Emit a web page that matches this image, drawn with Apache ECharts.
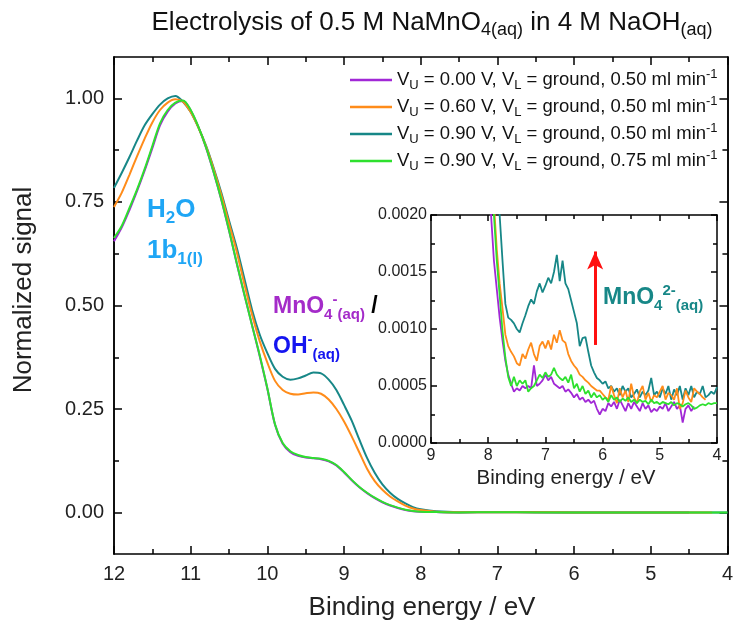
<!DOCTYPE html>
<html>
<head>
<meta charset="utf-8">
<script src="https://cdn.jsdelivr.net/npm/echarts@6/dist/echarts.min.js"></script>
<style>html,body{margin:0;padding:0;background:#fff;}#c{width:736px;height:625px;}</style>
</head>
<body>
<div id="c"></div>
<script>
// ---------- DATA ----------
const seriesNames = ['U000_050', 'U060_050', 'U090_050', 'U090_075'];

const mainE = [12.0,11.9,11.8,11.7,11.6,11.5,11.4,11.3,11.2,11.1,
               11.0,10.9,10.8,10.7,10.6,10.5,10.4,10.3,10.2,10.1,
               10.0,9.9,9.8,9.7,9.6,9.5,9.4,9.3,9.2,9.1,
               9.0,8.9,8.8,8.7,8.6,8.5,8.4,8.3,8.2,8.1,
               8.0,7.8,7.5,7.0,6.5,6.0,5.5,5.0,4.5,4.2,4.0];

const mainPurple = [0.655,0.688,0.730,0.776,0.826,0.880,0.935,0.968,0.988,0.994,
                    0.971,0.931,0.881,0.821,0.755,0.681,0.602,0.526,0.453,0.378,
                    0.299,0.212,0.166,0.146,0.137,0.133,0.131,0.129,0.124,0.114,
                    0.097,0.078,0.061,0.047,0.035,0.025,0.017,0.011,0.006,0.003,
                    0.002,0.0012,0.0005,0.0006,0.0004,0.0003,0.0003,0.0003,0.0003,null,null];

const mainOrange = [0.738,0.772,0.815,0.860,0.903,0.942,0.972,0.990,0.998,0.992,
                    0.967,0.930,0.884,0.829,0.767,0.698,0.630,0.552,0.478,0.414,
                    0.362,0.318,0.296,0.287,0.285,0.288,0.290,0.287,0.273,0.250,
                    0.220,0.184,0.145,0.106,0.076,0.055,0.039,0.027,0.017,0.010,
                    0.006,0.002,0.0007,0.0009,0.0007,0.00045,0.0005,0.00045,0.0004,0.0004,null];

const mainTeal = [0.784,0.820,0.858,0.898,0.935,0.962,0.985,1.000,1.006,0.992,
                  0.967,0.930,0.886,0.832,0.772,0.705,0.640,0.565,0.490,0.430,
                  0.385,0.347,0.328,0.321,0.324,0.331,0.338,0.336,0.321,0.296,
                  0.260,0.222,0.176,0.132,0.096,0.068,0.048,0.033,0.022,0.013,
                  0.008,0.003,0.001,0.0014,0.0012,0.0005,0.0005,0.0004,0.0005,0.0004,0.0005];

const mainGreen = [0.663,0.692,0.735,0.780,0.830,0.885,0.940,0.972,0.990,0.995,
                   0.972,0.932,0.882,0.822,0.756,0.682,0.603,0.527,0.452,0.380,
                   0.300,0.213,0.168,0.148,0.139,0.134,0.132,0.130,0.125,0.115,
                   0.098,0.079,0.062,0.048,0.036,0.026,0.018,0.012,0.007,0.004,
                   0.002,0.0013,0.0005,0.0006,0.0005,0.0004,0.0004,0.00035,0.00035,0.00033,0.00035];

const insetE = [8.00,7.95,7.90,7.85,7.80,7.75,7.70,7.65,7.60,7.55,
                7.50,7.45,7.40,7.35,7.30,7.25,7.20,7.15,7.10,7.05,
                7.00,6.95,6.90,6.85,6.80,6.75,6.70,6.65,6.60,6.55,
                6.50,6.45,6.40,6.35,6.30,6.25,6.20,6.15,6.10,6.05,
                6.00,5.95,5.90,5.85,5.80,5.75,5.70,5.65,5.60,5.55,
                5.50,5.45,5.40,5.35,5.30,5.25,5.20,5.15,5.10,5.05,
                5.00,4.95,4.90,4.85,4.80,4.75,4.70,4.65,4.60,4.55,
                4.50,4.45,4.40,4.35,4.30,4.25,4.20,4.15,4.10,4.05,
                4.00];

const insetPurple = [0.0026,0.0020,0.0016,0.00135,0.00110,0.00090,0.00072,0.00060,0.00052,0.00045,
                     0.00048,0.00046,0.00050,0.00048,0.00050,0.00048,0.00068,0.00050,0.00052,0.00055,
                     0.00060,0.00055,0.00058,0.00052,0.00050,0.00048,0.00050,0.00045,0.00047,0.00044,
                     0.00040,0.00043,0.00038,0.00040,0.00036,0.00038,0.00035,0.00037,0.00030,0.00025,
                     0.00030,0.00028,0.00035,0.00032,0.00036,0.00030,0.00038,0.00033,0.00028,0.00035,
                     0.00030,0.00036,0.00032,0.00028,0.00035,0.00030,0.00033,0.00027,0.00030,0.00028,
                     0.00032,0.00030,0.00035,0.00028,0.00032,0.00036,0.00030,0.00033,0.00018,0.00030,
                     0.00033,0.00028,0.00032,null,null,null,null,null,null,null,
                     null];

const insetOrange = [0.0036,0.0028,0.0021,0.0017,0.00140,0.00118,0.00095,0.00085,0.00080,0.00076,
                     0.00070,0.00068,0.00078,0.00074,0.00082,0.00088,0.00078,0.00072,0.00085,0.00089,
                     0.00083,0.00090,0.00082,0.00095,0.00088,0.00099,0.00090,0.00088,0.00078,0.00072,
                     0.00068,0.00065,0.00060,0.00058,0.00055,0.00053,0.00050,0.00048,0.00046,0.00046,
                     0.00043,0.00040,0.00038,0.00050,0.00042,0.00035,0.00048,0.00040,0.00046,0.00036,
                     0.00052,0.00040,0.00035,0.00045,0.00050,0.00038,0.00044,0.00036,0.00042,0.00040,
                     0.00045,0.00050,0.00038,0.00044,0.00042,0.00038,0.00048,0.00030,0.00035,0.00046,
                     0.00040,0.00036,0.00048,0.00045,0.00043,0.00040,0.00038,null,null,null,
                     null];

const insetTeal = [0.0040,0.0033,0.0028,0.0024,0.0020,0.0016,0.00122,0.00110,0.00108,0.00105,
                   0.00100,0.00097,0.00105,0.00112,0.00120,0.00126,0.00122,0.00133,0.00140,0.00132,
                   0.00138,0.00145,0.00140,0.00150,0.00165,0.00142,0.00160,0.00140,0.00135,0.00125,
                   0.00115,0.00105,0.00085,0.00092,0.00093,0.00080,0.00068,0.00062,0.00057,0.00055,
                   0.00052,0.00054,0.00048,0.00050,0.00045,0.00048,0.00042,0.00050,0.00045,0.00048,
                   0.00040,0.00043,0.00047,0.00040,0.00045,0.00042,0.00046,0.00057,0.00042,0.00045,
                   0.00040,0.00048,0.00043,0.00050,0.00038,0.00047,0.00042,0.00050,0.00038,0.00048,
                   0.00042,0.00050,0.00040,0.00045,0.00043,0.00050,0.00040,0.00042,0.00045,0.00043,
                   0.00049];

const insetGreen = [0.0032,0.0026,0.0020,0.0016,0.00130,0.00098,0.00075,0.00058,0.00050,0.00058,
                    0.00050,0.00055,0.00052,0.00055,0.00045,0.00048,0.00050,0.00055,0.00060,0.00057,
                    0.00062,0.00058,0.00060,0.00066,0.00060,0.00057,0.00055,0.00058,0.00053,0.00060,
                    0.00048,0.00052,0.00045,0.00050,0.00043,0.00046,0.00040,0.00044,0.00040,0.00042,
                    0.00038,0.00040,0.00036,0.00042,0.00038,0.00040,0.00036,0.00039,0.00037,0.00040,
                    0.00036,0.00038,0.00035,0.00038,0.00036,0.00037,0.00034,0.00038,0.00035,0.00036,
                    0.00034,0.00036,0.00035,0.00034,0.00036,0.00033,0.00035,0.00034,0.00032,0.00034,
                    0.00035,0.00033,0.00030,0.00031,0.00033,0.00034,0.00033,0.00035,0.00034,0.00035,
                    0.00035];

const mainYMajor = [0, 0.25, 0.5, 0.75, 1.0];
const mainYMinor = [0.125, 0.375, 0.625, 0.875];

// ---------- STYLE ----------
const FONT = '"Liberation Sans", Arial, sans-serif';
const colors = {
  U000_050: '#a128d6',
  U060_050: '#ff8c1a',
  U090_050: '#178787',
  U090_075: '#2ee02e'
};
const legendLabels = {
  U000_050: 'V{sb|U} = 0.00 V, V{sb|L} = ground, 0.50 ml min{sp|-1}',
  U060_050: 'V{sb|U} = 0.60 V, V{sb|L} = ground, 0.50 ml min{sp|-1}',
  U090_050: 'V{sb|U} = 0.90 V, V{sb|L} = ground, 0.50 ml min{sp|-1}',
  U090_075: 'V{sb|U} = 0.90 V, V{sb|L} = ground, 0.75 ml min{sp|-1}'
};
const mainData = { U000_050: mainPurple, U060_050: mainOrange, U090_050: mainTeal, U090_075: mainGreen };
const insetData = { U000_050: insetPurple, U060_050: insetOrange, U090_050: insetTeal, U090_075: insetGreen };
const drawOrder = ['U000_050', 'U090_050', 'U060_050', 'U090_075'];

const AX = '#000';
function xAx(grid, pos, min, max, labels, fs, tl, ml, margin) {
  return {
    type: 'value', gridIndex: grid, position: pos, inverse: true, min: min, max: max, interval: 1,
    axisLine: { show: true, onZero: false, lineStyle: { color: AX, width: 1.5 } },
    axisTick: { show: true, inside: true, length: tl, lineStyle: { color: AX, width: 1.5 } },
    minorTick: { show: true, splitNumber: 2, length: ml, lineStyle: { color: AX, width: 1.5 } },
    axisLabel: { show: labels, fontSize: fs, color: '#222', fontFamily: FONT, margin: margin },
    splitLine: { show: false }
  };
}
function yCustom(pos, vals, len, labels) {
  return {
    type: 'value', gridIndex: 0, position: pos, min: -0.1, max: 1.1,
    axisLine: { show: true, onZero: false, lineStyle: { color: AX, width: 1.5 } },
    axisTick: { show: true, inside: true, length: len, customValues: vals, lineStyle: { color: AX, width: 1.5 } },
    axisLabel: labels ? { show: true, customValues: vals, fontSize: 20, color: '#222', fontFamily: FONT, margin: 10,
      formatter: v => Number(v).toFixed(2) } : { show: false },
    splitLine: { show: false }
  };
}
function yInset(pos, labels) {
  return {
    type: 'value', gridIndex: 1, position: pos, min: 0, max: 0.002, interval: 0.0005,
    axisLine: { show: true, onZero: false, lineStyle: { color: AX, width: 1.5 } },
    axisTick: { show: true, inside: true, length: 6, lineStyle: { color: AX, width: 1.5 } },
    minorTick: { show: true, splitNumber: 2, length: 4, lineStyle: { color: AX, width: 1.5 } },
    axisLabel: { show: labels, fontSize: 16, color: '#222', fontFamily: FONT, margin: 4,
      formatter: v => Number(v).toFixed(4) },
    splitLine: { show: false }
  };
}

const series = [];
drawOrder.forEach(n => {
  series.push({
    name: n, type: 'line', xAxisIndex: 0, yAxisIndex: 0, symbol: 'none', smooth: 0.3,
    clip: true, animation: false, color: colors[n],
    lineStyle: { color: colors[n], width: 2 },
    data: mainE.map((e, i) => [e, mainData[n][i]])
  });
});
drawOrder.forEach(n => {
  const s = {
    name: n, type: 'line', xAxisIndex: 2, yAxisIndex: 4, symbol: 'none', smooth: false,
    clip: true, animation: false, color: colors[n],
    lineStyle: { color: colors[n], width: 1.8 },
    data: insetE.map((e, i) => [e, insetData[n][i]])
  };
  if (n === 'U090_075') {
    s.markLine = {
      silent: true, animation: false, symbol: ['none', 'arrow'], symbolSize: [12, 18],
      lineStyle: { color: '#ff1010', width: 3, type: 'solid' },
      label: { show: false },
      data: [[{ coord: [6.13, 0.00086] }, { coord: [6.13, 0.00168] }]]
    };
  }
  series.push(s);
});

const subS = (fs, extra) => Object.assign({ fontSize: fs, verticalAlign: 'bottom', lineHeight: Math.round(fs * 0.9) }, extra || {});
const supS = (fs, extra) => Object.assign({ fontSize: fs, verticalAlign: 'top', lineHeight: Math.round(fs * 0.9) }, extra || {});

function richText(x, y, text, fs, sfs, color, bold, extraRich) {
  const w = bold ? 'bold' : 'normal';
  const rich = {
    sb: subS(sfs, { fontWeight: w, fontFamily: FONT, fill: color, color: color }),
    sp: supS(sfs, { fontWeight: w, fontFamily: FONT, fill: color, color: color })
  };
  Object.assign(rich, extraRich || {});
  return { type: 'text', x: x, y: y, style: {
    text: text, fontSize: fs, fontWeight: w, fontFamily: FONT, fill: color,
    verticalAlign: 'middle', lineHeight: Math.round(fs * 1.3), rich: rich } };
}

const option = {
  backgroundColor: '#fff',
  animation: false,
  grid: [
    { left: 114, top: 57, right: 5, bottom: 71 },
    { left: 431, top: 215, right: 19, bottom: 182 }
  ],
  xAxis: [
    xAx(0, 'bottom', 4, 12, true, 20, 8, 5, 10),
    xAx(0, 'top', 4, 12, false, 20, 8, 5, 10),
    xAx(1, 'bottom', 4, 9, true, 16, 6, 4, 5),
    xAx(1, 'top', 4, 9, false, 16, 6, 4, 5)
  ],
  yAxis: [
    yCustom('left', mainYMajor, 8, true),
    yCustom('left', mainYMinor, 5, false),
    yCustom('right', mainYMajor, 8, false),
    yCustom('right', mainYMinor, 5, false),
    yInset('left', true),
    yInset('right', false)
  ],
  legend: {
    data: seriesNames, orient: 'vertical', left: 345, top: 63,
    icon: 'rect', itemWidth: 42, itemHeight: 2.5, itemGap: 3,
    formatter: n => legendLabels[n],
    textStyle: {
      fontSize: 18.5, color: '#111', fontFamily: FONT, lineHeight: 24,
      rich: { sb: subS(13, { fontFamily: FONT, color: '#111' }), sp: supS(13, { fontFamily: FONT, color: '#111' }) }
    }
  },
  series: series,
  graphic: [
    { type: 'text', x: 432, y: 23, style: {
      text: 'Electrolysis of 0.5 M NaMnO{sb|4(aq)} in 4 M NaOH{sb|(aq)}',
      fontSize: 26, fontFamily: FONT, fill: '#111', align: 'center', verticalAlign: 'middle', lineHeight: 32,
      rich: { sb: subS(18, { fontFamily: FONT, fill: '#111', color: '#111' }) } } },
    { type: 'text', x: 422, y: 608, style: {
      text: 'Binding energy / eV', fontSize: 26, fontFamily: FONT, fill: '#222', align: 'center', verticalAlign: 'middle' } },
    { type: 'text', x: 24, y: 290, rotation: Math.PI / 2, style: {
      text: 'Normalized signal', fontSize: 26, fontFamily: FONT, fill: '#222', align: 'center', verticalAlign: 'middle' } },
    { type: 'text', x: 566, y: 478, style: {
      text: 'Binding energy / eV', fontSize: 20.5, fontFamily: FONT, fill: '#222', align: 'center', verticalAlign: 'middle' } },
    richText(147, 210, 'H{sb|2}O', 26, 17, '#1fa6f5', true),
    richText(147, 251, '1b{sb|1(l)}', 26, 17, '#1fa6f5', true),
    richText(273, 307, 'MnO{sb|4}{sp|-}{sb|(aq)}{k| /}', 23, 15, '#a42bc9', true,
      { k: { fontSize: 23, fontWeight: 'bold', fontFamily: FONT, fill: '#000', color: '#000' } }),
    richText(273, 347, 'OH{sp|-}{sb|(aq)}', 23, 15, '#1515f0', true),
    richText(603, 298, 'MnO{sb|4}{sp|2-}{sb|(aq)}', 23, 15, '#178787', true)
  ]
};

const chart = echarts.init(document.getElementById('c'), null, { renderer: 'canvas' });
chart.setOption(option);
</script>
</body>
</html>
